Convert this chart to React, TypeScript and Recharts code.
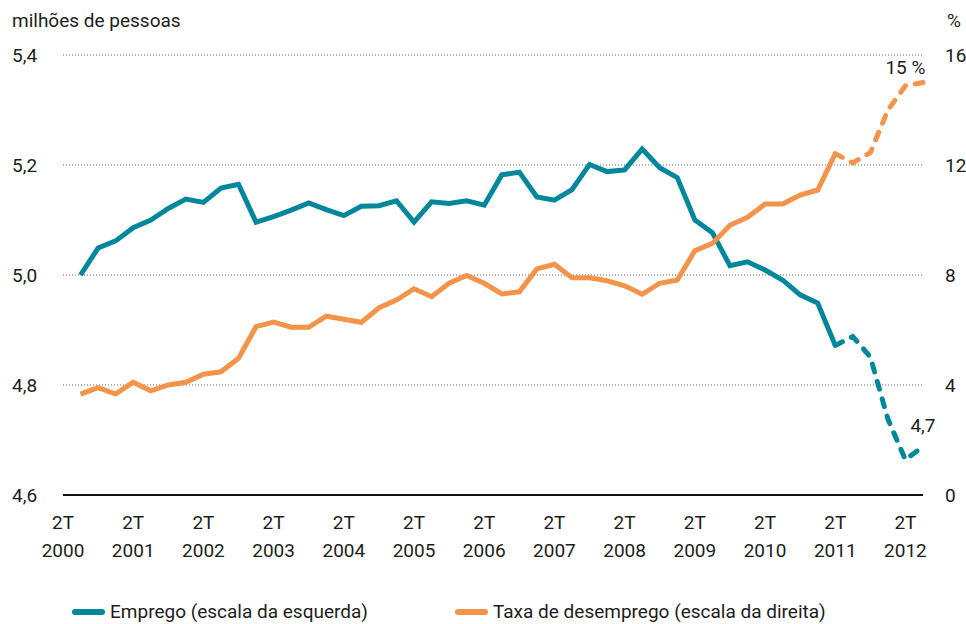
import { LineChart, Line, XAxis, YAxis, CartesianGrid, ReferenceDot } from "recharts";

const anos = [2000, 2001, 2002, 2003, 2004, 2005, 2006, 2007, 2008, 2009, 2010, 2011, 2012];
const trimestres = ["1T", "2T", "3T", "4T"];
// de 2T 2000 a 3T 2012
const periodos = anos.flatMap((a) => trimestres.map((t) => `${t} ${a}`)).slice(1, 51);

// milhões de pessoas (escala da esquerda)
const emprego = [
  null, 5.0, 5.049, 5.062, 5.086, 5.1, 5.121, 5.138, 5.132, 5.158, 5.165,
  5.096, 5.106, 5.118, 5.131, 5.119, 5.108, 5.125, 5.126, 5.135, 5.096,
  5.133, 5.13, 5.135, 5.127, 5.182, 5.187, 5.142, 5.136, 5.155, 5.201,
  5.188, 5.191, 5.229, 5.195, 5.177, 5.1, 5.077, 5.017, 5.024, 5.009,
  4.991, 4.964, 4.949, 4.872, 4.888, 4.851, 4.738, 4.664, 4.688,
];

// % (escala da direita)
const desemprego = [
  null, 3.67, 3.9, 3.67, 4.1, 3.79, 4.0, 4.1, 4.39, 4.48, 4.97,
  6.12, 6.29, 6.1, 6.1, 6.5, 6.39, 6.28, 6.81, 7.09, 7.5,
  7.21, 7.7, 7.98, 7.7, 7.31, 7.39, 8.22, 8.39, 7.9, 7.9,
  7.79, 7.61, 7.3, 7.7, 7.82, 8.88, 9.15, 9.81, 10.1, 10.58,
  10.58, 10.91, 11.09, 12.41, 12.08, 12.45, 14.0, 14.88, 15.0,
];

const ticksEmprego = [4.6, 4.8, 5.0, 5.2, 5.4];
const ticksDesemprego = [0, 4, 8, 12, 16];
const inicioProjecao = "2T 2011";

const TEAL = "#00879b";
const LARANJA = "#f4934a";
const TEXTO = "#1d1d1b";
const FONTE = "Roboto, 'Noto Sans', sans-serif";

const legenda = [
  { nome: "Emprego (escala da esquerda)", cor: TEAL },
  { nome: "Taxa de desemprego (escala da direita)", cor: LARANJA },
];

const idxProj = periodos.indexOf(inicioProjecao);
const dados = periodos.map((p, i) => ({
  periodo: p,
  empregoObs: i <= idxProj ? emprego[i] : null,
  empregoProj: i >= idxProj ? emprego[i] : null,
  desempregoObs: i <= idxProj ? desemprego[i] : null,
  desempregoProj: i >= idxProj ? desemprego[i] : null,
}));

const ultimo = periodos.length - 1;

function TickX({ x, y, payload }: any) {
  const [t, a] = String(payload.value).split(" ");
  return (
    <text x={x} y={y} textAnchor="middle" fill={TEXTO} fontSize={19} fontFamily={FONTE}>
      <tspan x={x} dy={34}>{t}</tspan>
      <tspan x={x} dy={28}>{a}</tspan>
    </text>
  );
}

function TickEsq({ y, payload }: any) {
  return (
    <text x={12} y={y} dy={7} textAnchor="start" fill={TEXTO} fontSize={19} fontFamily={FONTE}>
      {Number(payload.value).toFixed(1).replace(".", ",")}
    </text>
  );
}

function TickDir({ y, payload }: any) {
  return (
    <text x={945} y={y} dy={7} textAnchor="start" fill={TEXTO} fontSize={19} fontFamily={FONTE}>
      {payload.value}
    </text>
  );
}

export default function App() {
  return (
    <div style={{ position: "absolute", left: 0, top: 0, width: 966, height: 624, fontFamily: FONTE, background: "#fff" }}>
      <svg width={966} height={40} style={{ position: "absolute", left: 0, top: 0 }}>
        <text x={12} y={27} fontSize={19} fill={TEXTO} fontFamily={FONTE}>milhões de pessoas</text>
        <text x={947} y={27} fontSize={19} fill={TEXTO} fontFamily={FONTE}>%</text>
      </svg>
      <div style={{ position: "absolute", left: 0, top: 0 }}>
        <LineChart width={966} height={624} data={dados} margin={{ top: 55, right: 0, bottom: 99, left: 8 }}>
          <CartesianGrid yAxisId="esq" vertical={false} stroke="#666" strokeDasharray="1 2" />
          <XAxis
            dataKey="periodo"
            interval={3}
            height={30}
            tickSize={0}
            tickMargin={0}
            tickLine={false}
            axisLine={{ stroke: "#111", strokeWidth: 2 }}
            tick={<TickX />}
          />
          <YAxis
            yAxisId="esq"
            orientation="left"
            width={55}
            domain={[4.6, 5.4]}
            ticks={ticksEmprego}
            axisLine={false}
            tickLine={false}
            tick={<TickEsq />}
          />
          <YAxis
            yAxisId="dir"
            orientation="right"
            width={43}
            domain={[0, 16]}
            ticks={ticksDesemprego}
            axisLine={false}
            tickLine={false}
            tick={<TickDir />}
          />
          <Line yAxisId="esq" dataKey="empregoObs" stroke={TEAL} strokeWidth={5} dot={false} activeDot={false} isAnimationActive={false} />
          <Line yAxisId="esq" dataKey="empregoProj" stroke={TEAL} strokeWidth={5} strokeDasharray="8 10" strokeLinecap="round" dot={false} activeDot={false} isAnimationActive={false} />
          <Line yAxisId="dir" dataKey="desempregoObs" stroke={LARANJA} strokeWidth={5} dot={false} activeDot={false} isAnimationActive={false} />
          <Line yAxisId="dir" dataKey="desempregoProj" stroke={LARANJA} strokeWidth={5} strokeDasharray="8 10" strokeLinecap="round" dot={false} activeDot={false} isAnimationActive={false} />
          <ReferenceDot
            yAxisId="dir"
            x={periodos[ultimo - 1]}
            y={desemprego[ultimo]}
            r={1}
            fill="none"
            stroke="none"
            label={{ value: "15 %", position: "top", offset: 8, fill: TEXTO, fontSize: 19, fontFamily: FONTE }}
          />
          <ReferenceDot
            yAxisId="esq"
            x={periodos[ultimo]}
            y={emprego[ultimo]}
            r={1}
            fill="none"
            stroke="none"
            label={{ value: "4,7", position: "top", offset: 14, fill: TEXTO, fontSize: 19, fontFamily: FONTE }}
          />
        </LineChart>
      </div>
      <div style={{ position: "absolute", left: 72, top: 600, display: "flex", alignItems: "center", fontSize: 19, color: TEXTO, whiteSpace: "nowrap" }}>
        {legenda.map((item) => (
          <div key={item.nome} style={{ display: "flex", alignItems: "center", width: 383 }}>
            <span style={{ display: "inline-block", width: 33, height: 6, borderRadius: 3, background: item.cor, marginRight: 5 }} />
            <span>{item.nome}</span>
          </div>
        ))}
      </div>
    </div>
  );
}
